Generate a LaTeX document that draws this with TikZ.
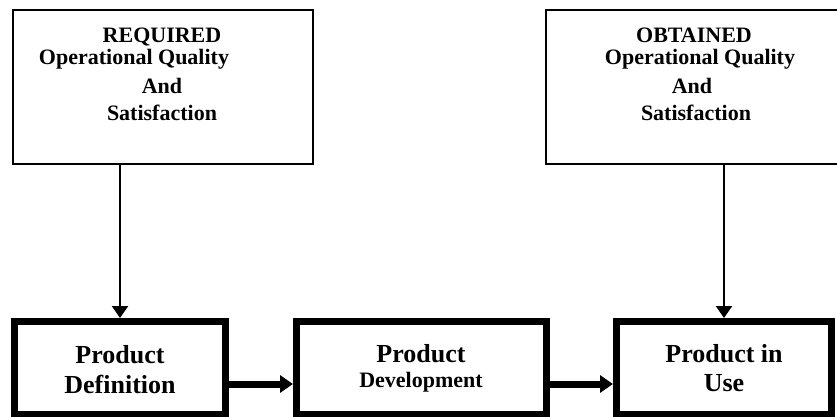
\documentclass[tikz,border=0pt]{standalone}
\usepackage{fontspec}
\setmainfont{Liberation Serif}
\usetikzlibrary{arrows.meta}
\tikzset{
  x=1pt, y=-1pt,
  thinbox/.style={draw=black, line width=1.8pt, fill=white, inner sep=0pt},
  thickbox/.style={draw=black, line width=7pt, fill=white, inner sep=0pt},
  lbl/.style={inner sep=0pt, anchor=base, font=\bfseries\fontsize{22}{26}\selectfont},
  biglbl/.style={inner sep=0pt, anchor=base, font=\bfseries\fontsize{26}{30}\selectfont},
  thinarrow/.style={draw=black, line width=2.2pt, -{Triangle[width=16pt,length=12pt]}},
  thickarrow/.style={draw=black, line width=7pt, -{Triangle[width=17pt,length=13pt]}}
}
\begin{document}
\begin{tikzpicture}
\useasboundingbox (0,0) rectangle (837,417);
\clip (0,0) rectangle (837,417);
\fill[white] (0,0) rectangle (837,417);

% top boxes
\node[thinbox, minimum width=300pt, minimum height=154pt] (req) at (163,87) {};
\node[thinbox, minimum width=314pt, minimum height=154pt] (obt) at (703,87) {};

% bottom boxes
\node[thickbox, minimum width=211pt, minimum height=93pt] (pd) at (120,368) {};
\node[thickbox, minimum width=250pt, minimum height=93pt] (pdev) at (421.5,368) {};
\node[thickbox, minimum width=215pt, minimum height=93pt] (pu) at (724,368) {};

% texts, top left
\node[lbl] (r1) at (162,43) {REQUIRED};
\node[lbl] (r2) at (134,65) {Operational Quality};
\node[lbl] (r3) at (162,94) {And};
\node[lbl] (r4) at (162,121) {Satisfaction};

% texts, top right
\node[lbl] (o1) at (694,43) {OBTAINED};
\node[lbl] (o2) at (700,65) {Operational Quality};
\node[lbl] (o3) at (692,94) {And};
\node[lbl] (o4) at (696,121) {Satisfaction};

% texts, bottom
\node[biglbl] (d1) at (120,363) {Product};
\node[biglbl] (d2) at (120,393) {Definition};
\node[biglbl] (v1) at (421,362) {Product};
\node[lbl] (v2) at (421,387) {Development};
\node[biglbl] (u1) at (724,362) {Product in};
\node[biglbl] (u2) at (724,391) {Use};

% connectors
\coordinate (ay) at (0,384);
\draw[thinarrow] (req.south -| pd.north) -- (pd.north);
\draw[thinarrow] (obt.south -| pu.north) -- (pu.north);
\draw[thickarrow] (pd.east |- ay) -- (pdev.west |- ay);
\draw[thickarrow] (pdev.east |- ay) -- (pu.west |- ay);
\end{tikzpicture}
\end{document}
